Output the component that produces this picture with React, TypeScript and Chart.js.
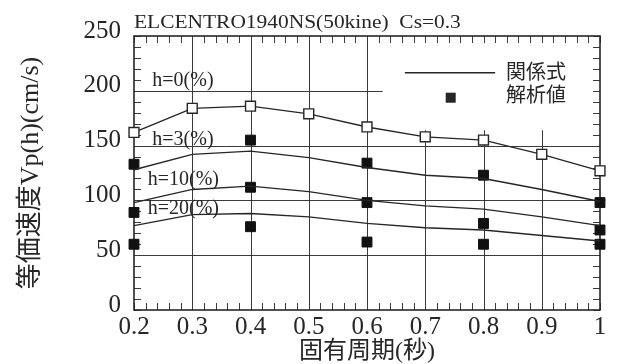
import React, { useEffect, useRef } from "react";
import { Chart, registerables } from "chart.js";

Chart.register(...registerables);

// ---- data ----
const periods = [0.2, 0.3, 0.4, 0.5, 0.6, 0.7, 0.8, 0.9, 1.0];
const h0Values = [162, 184, 186, 179, 167, 158, 155, 142, 127];
const h3Values = [128, 142, 145, 139, 130, 123, 120, 110, 99];
const h10Values = [98, 110, 113, 108, 100, 95, 92, 85, 77];
const h20Values = [77, 87, 88, 85, 79, 75, 73, 68, 63];

const analysisPeriods = [0.2, 0.2, 0.2, 0.4, 0.4, 0.4, 0.6, 0.6, 0.6, 0.8, 0.8, 0.8, 1.0, 1.0, 1.0];
const analysisValues = [133, 89, 60, 155, 112, 76, 134, 98, 62, 123, 79, 60, 98, 73, 60];

const xTickValues = [0.2, 0.3, 0.4, 0.5, 0.6, 0.7, 0.8, 0.9, 1.0];
const yTickValues = [0, 50, 100, 150, 200, 250];

const dampingLabels = ["h=0(%)", "h=3(%)", "h=10(%)", "h=20(%)"];
const legendLabels = ["関係式", "解析値"];
const titleText = "ELCENTRO1940NS(50kine)  Cs=0.3";
const xTitle = "固有周期(秒)";
const yTitle = "等価速度Vp(h)(cm/s)";

// ---- annotation placement (value space) ----
const dampingLabelAnchors = [
  { x: 0.2314, y: 204.4 },
  { x: 0.2314, y: 150.5 },
  { x: 0.2235, y: 114 },
  { x: 0.2235, y: 87.3 },
];
const fullVerticalGrid = [0.3, 0.4, 0.5, 0.6];
const partialVerticalGrid = [0.7, 0.8, 0.9];
const partialVerticalTop = 164;
const fullHorizontalGrid = [50, 100, 150];
const partialHorizontalGrid = [200];
const partialHorizontalEnd = 0.627;

const INK = "#262626";
const SERIF = "'Liberation Serif', 'Noto Sans CJK JP', serif";

const decorPlugin = {
  id: "decor",
  beforeDatasetsDraw(chart: any) {
    const { ctx, chartArea, scales } = chart;
    const { left, right, top, bottom } = chartArea;
    const x = scales.x;
    const y = scales.y;
    ctx.save();
    ctx.strokeStyle = "#3a3a3a";
    ctx.lineWidth = 1;
    ctx.beginPath();
    fullVerticalGrid.forEach((v) => {
      const px = Math.round(x.getPixelForValue(v)) + 0.5;
      ctx.moveTo(px, top);
      ctx.lineTo(px, bottom);
    });
    partialVerticalGrid.forEach((v) => {
      const px = Math.round(x.getPixelForValue(v)) + 0.5;
      ctx.moveTo(px, y.getPixelForValue(partialVerticalTop));
      ctx.lineTo(px, bottom);
    });
    fullHorizontalGrid.forEach((v) => {
      const py = Math.round(y.getPixelForValue(v)) + 0.5;
      ctx.moveTo(left, py);
      ctx.lineTo(right, py);
    });
    partialHorizontalGrid.forEach((v) => {
      const py = Math.round(y.getPixelForValue(v)) + 0.5;
      ctx.moveTo(left, py);
      ctx.lineTo(x.getPixelForValue(partialHorizontalEnd), py);
    });
    ctx.stroke();

    // minor ticks
    ctx.beginPath();
    const tl = 7;
    for (let i = 0; i <= 40; i++) {
      const v = 0.2 + i * 0.02;
      const px = Math.round(x.getPixelForValue(v)) + 0.5;
      ctx.moveTo(px, top);
      ctx.lineTo(px, top + tl);
      ctx.moveTo(px, bottom);
      ctx.lineTo(px, bottom - tl);
    }
    for (let v = 0; v <= 250; v += 10) {
      const py = Math.round(y.getPixelForValue(v)) + 0.5;
      ctx.moveTo(left, py);
      ctx.lineTo(left + tl, py);
      ctx.moveTo(right, py);
      ctx.lineTo(right - tl, py);
    }
    ctx.stroke();

    // border
    ctx.lineWidth = 1.6;
    ctx.strokeStyle = INK;
    ctx.strokeRect(left, top, right - left, bottom - top);
    ctx.restore();
  },
  afterDatasetsDraw(chart: any) {
    const { ctx, chartArea, scales } = chart;
    const x = scales.x;
    const y = scales.y;
    ctx.save();
    ctx.fillStyle = INK;

    // title (slightly wide serif)
    ctx.save();
    ctx.font = `18px ${SERIF}`;
    ctx.textBaseline = "alphabetic";
    ctx.textAlign = "left";
    ctx.translate(chartArea.left, 28);
    ctx.scale(1.19, 1);
    ctx.fillText(titleText, 0, 0);
    ctx.restore();

    // damping labels
    ctx.font = `20px ${SERIF}`;
    ctx.textBaseline = "alphabetic";
    ctx.textAlign = "left";
    dampingLabels.forEach((t, i) => {
      const a = dampingLabelAnchors[i];
      ctx.fillText(t, x.getPixelForValue(a.x), y.getPixelForValue(a.y));
    });

    // legend
    ctx.strokeStyle = INK;
    ctx.lineWidth = 1.5;
    ctx.beginPath();
    const ly = y.getPixelForValue(216.5);
    ctx.moveTo(x.getPixelForValue(0.665), ly);
    ctx.lineTo(x.getPixelForValue(0.82), ly);
    ctx.stroke();
    const sx = x.getPixelForValue(0.7437);
    const sy = y.getPixelForValue(193.7);
    ctx.fillRect(sx - 5, sy - 5, 10, 10);
    ctx.font = `20px 'Noto Sans CJK JP', sans-serif`;
    ctx.textBaseline = "middle";
    ctx.fillText(legendLabels[0], x.getPixelForValue(0.8386), y.getPixelForValue(217.5));
    ctx.fillText(legendLabels[1], x.getPixelForValue(0.8386), y.getPixelForValue(197));
    ctx.restore();
  },
};

export default function App() {
  const canvasRef = useRef<HTMLCanvasElement | null>(null);

  useEffect(() => {
    if (!canvasRef.current) return;
    const chart = new Chart(canvasRef.current, {
      type: "line",
      data: {
        datasets: [
          {
            label: "h=0",
            data: periods.map((p, i) => ({ x: p, y: h0Values[i] })),
            borderColor: INK,
            borderWidth: 1.4,
            pointStyle: "rect",
            pointRadius: 7,
            pointBorderWidth: 1.4,
            pointBackgroundColor: "#ffffff",
            pointBorderColor: INK,
            tension: 0,
            clip: false,
          },
          {
            label: "h=3",
            data: periods.map((p, i) => ({ x: p, y: h3Values[i] })),
            borderColor: INK,
            borderWidth: 1.4,
            pointRadius: 0,
            tension: 0,
            clip: false,
          },
          {
            label: "h=10",
            data: periods.map((p, i) => ({ x: p, y: h10Values[i] })),
            borderColor: INK,
            borderWidth: 1.4,
            pointRadius: 0,
            tension: 0,
            clip: false,
          },
          {
            label: "h=20",
            data: periods.map((p, i) => ({ x: p, y: h20Values[i] })),
            borderColor: INK,
            borderWidth: 1.4,
            pointRadius: 0,
            tension: 0,
            clip: false,
          },
          {
            label: "解析値",
            data: analysisPeriods.map((p, i) => ({ x: p, y: analysisValues[i] })),
            showLine: false,
            pointStyle: "rect",
            pointRadius: 7,
            pointBorderWidth: 1,
            pointBackgroundColor: "#111111",
            pointBorderColor: "#111111",
            clip: false,
          },
        ],
      },
      options: {
        animation: false,
        responsive: false,
        maintainAspectRatio: false,
        layout: { padding: { left: 0, top: 36, right: 20, bottom: 0 } },
        plugins: {
          legend: { display: false },
          tooltip: { enabled: false },
          title: { display: false },
        },
        scales: {
          x: {
            type: "linear",
            min: 0.2,
            max: 1.0,
            grid: { display: false, drawTicks: false },
            border: { display: false },
            afterBuildTicks: (scale: any) => {
              scale.ticks = xTickValues.map((v) => ({ value: v }));
            },
            afterFit: (scale: any) => {
              scale.height = 54;
            },
            ticks: {
              padding: 2,
              color: INK,
              font: { family: SERIF, size: 25 },
              callback: (v: any) => String(Math.round(Number(v) * 10) / 10),
            },
            title: {
              display: true,
              text: xTitle,
              color: INK,
              padding: { top: 0, bottom: 0 },
              font: { family: SERIF, size: 24, lineHeight: 1 },
            },
          },
          y: {
            type: "linear",
            min: 0,
            max: 250,
            grid: { display: false, drawTicks: false },
            border: { display: false },
            afterBuildTicks: (scale: any) => {
              scale.ticks = yTickValues.map((v) => ({ value: v }));
            },
            afterFit: (scale: any) => {
              scale.width = 134;
            },
            ticks: {
              padding: 13,
              labelOffset: -5,
              color: INK,
              font: { family: SERIF, size: 25 },
              callback: (v: any) => String(v),
            },
            title: {
              display: true,
              text: yTitle,
              color: INK,
              padding: { top: 16, bottom: 0 },
              font: { family: SERIF, size: 26, lineHeight: 1.2 },
            },
          },
        },
      },
      plugins: [decorPlugin],
    } as any);
    return () => chart.destroy();
  }, []);

  return (
    <div style={{ position: "absolute", left: 0, top: 0, width: 620, height: 364, background: "#ffffff" }}>
      <canvas ref={canvasRef} width={620} height={364} style={{ width: 620, height: 364 }} />
    </div>
  );
}
